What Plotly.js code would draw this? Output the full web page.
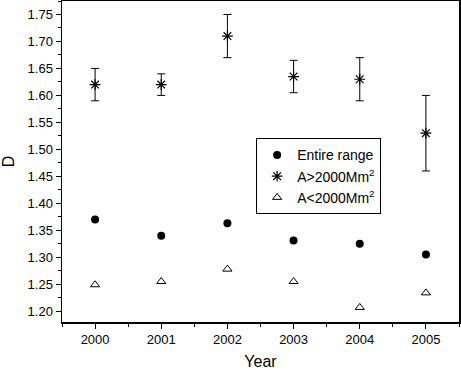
<!DOCTYPE html>
<html>
<head>
<meta charset="utf-8">
<script src="https://cdn.plot.ly/plotly-3.0.1.min.js"></script>
<style>
  html, body { margin: 0; padding: 0; background: white; }
  #chart { width: 461px; height: 370px; }
</style>
</head>
<body>
<div id="chart"></div>
<script>
// values
var years = [2000, 2001, 2002, 2003, 2004, 2005];
var entireRange = [1.370, 1.340, 1.363, 1.331, 1.325, 1.305];
var largeArea = [1.620, 1.620, 1.710, 1.635, 1.630, 1.530];
var largeErrPlus = [0.030, 0.020, 0.040, 0.030, 0.040, 0.070];
var largeErrMinus = [0.030, 0.020, 0.040, 0.030, 0.040, 0.070];
var smallArea = [1.249, 1.255, 1.278, 1.255, 1.207, 1.234];
var yTicks = [1.20, 1.25, 1.30, 1.35, 1.40, 1.45, 1.50, 1.55, 1.60, 1.65, 1.70, 1.75];

var font = 'Liberation Sans, Arial, sans-serif';

var traceEntire = {
  x: years,
  y: entireRange,
  mode: 'markers',
  name: 'Entire range',
  marker: {symbol: 'circle', color: '#000', size: 8}
};

var traceLarge = {
  x: years,
  y: largeArea,
  mode: 'markers',
  name: 'A&gt;2000Mm<sup>2</sup>',
  marker: {symbol: 'asterisk-open', color: '#000', size: 9, line: {color: '#000', width: 1.2}},
  error_y: {
    type: 'data',
    symmetric: false,
    array: largeErrPlus,
    arrayminus: largeErrMinus,
    color: '#000',
    thickness: 1,
    width: 4
  }
};

var traceSmall = {
  x: years,
  y: smallArea,
  mode: 'markers',
  name: 'A&lt;2000Mm<sup>2</sup>',
  marker: {symbol: 'triangle-up-open', color: '#000', size: 8, line: {color: '#000', width: 1}}
};

var layout = {
  width: 461,
  height: 370,
  margin: {l: 62, r: 2, t: 1, b: 48},
  paper_bgcolor: 'white',
  plot_bgcolor: 'white',
  font: {family: font, color: '#000', size: 13},
  showlegend: true,
  legend: {
    x: 0.489, y: 0.572, xanchor: 'left', yanchor: 'top',
    bordercolor: '#000', borderwidth: 1, bgcolor: 'white',
    font: {family: font, size: 14, color: '#000'},
    itemwidth: 30, tracegroupgap: 0
  },
  xaxis: {
    title: {text: 'Year', font: {family: font, size: 16}, standoff: 12},
    range: [1999.5, 2005.5],
    tickvals: years,
    ticktext: years.map(String),
    ticks: 'outside', ticklen: 5, tickwidth: 1, tickcolor: '#000',
    minor: {dtick: 0.5, tick0: 1999.5, ticks: 'outside', ticklen: 3, tickcolor: '#000'},
    showline: true, linecolor: '#000', linewidth: 1.5, mirror: true,
    showgrid: false, zeroline: false
  },
  yaxis: {
    title: {text: 'D', font: {family: font, size: 16}, standoff: 10},
    range: [1.18, 1.775],
    tickvals: yTicks,
    ticktext: yTicks.map(function (v) { return v.toFixed(2); }),
    ticks: 'outside', ticklen: 5, tickwidth: 1, tickcolor: '#000',
    minor: {dtick: 0.025, tick0: 1.175, ticks: 'outside', ticklen: 3, tickcolor: '#000'},
    showline: true, linecolor: '#000', linewidth: 1.5, mirror: true,
    showgrid: false, zeroline: false
  }
};

Plotly.newPlot('chart', [traceEntire, traceLarge, traceSmall], layout, {displayModeBar: false, staticPlot: true});
</script>
</body>
</html>
